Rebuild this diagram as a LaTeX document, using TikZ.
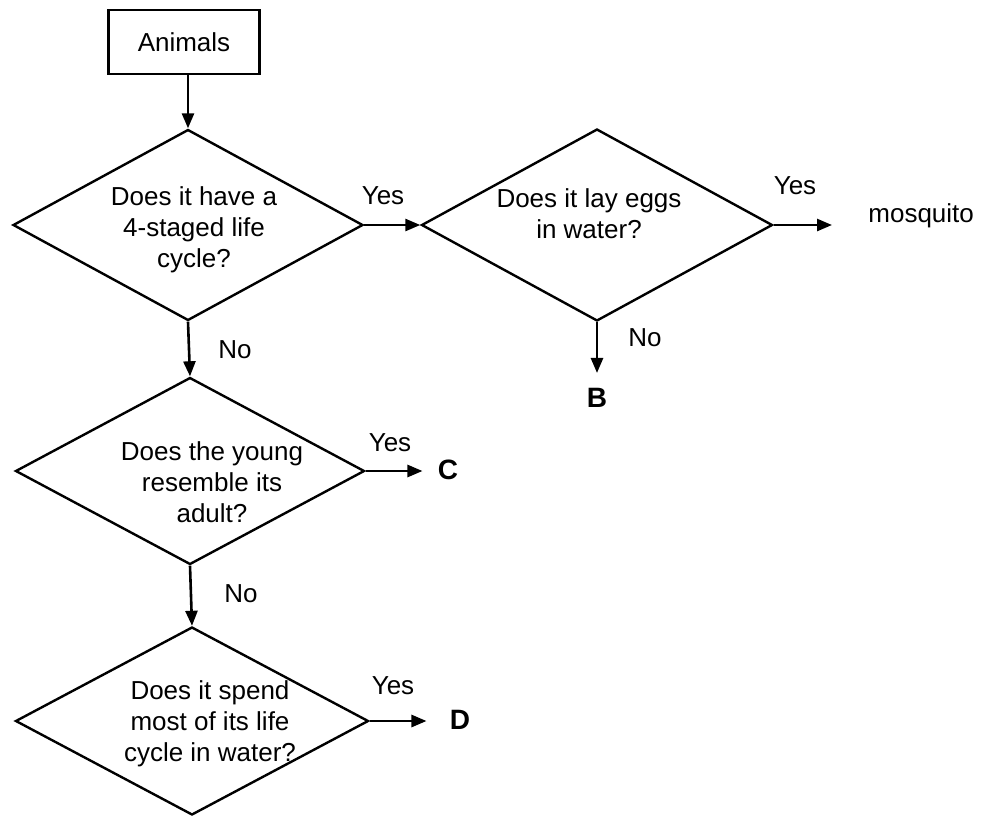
\documentclass[tikz,border=0pt]{standalone}
\usepackage{fontspec}
\setmainfont{Liberation Sans}
\usetikzlibrary{arrows.meta,shapes.geometric}
\newcommand{\qsize}{\fontsize{13}{15.5}\selectfont}
\tikzset{
  box/.style   = {draw, line width=1.2pt, minimum width=75.5pt,
                  minimum height=32pt, font=\qsize},
  quest/.style = {diamond, draw, line width=1.2pt, inner sep=0pt},
  qtext/.style = {align=center, font=\qsize},
  lbl/.style   = {font=\qsize},
  leaf/.style  = {font=\fontsize{14}{16}\selectfont\bfseries, inner sep=0pt},
  flow/.style  = {-{Triangle[length=7.5pt,width=6pt]}, line width=1.3pt},
}
\begin{document}
\begin{tikzpicture}[x=0.5pt, y=-0.5pt]
  \useasboundingbox (0,0) rectangle (981,816);
  % start
  \node[box] (anim) at (184,42) {Animals};
  % questions
  \node[quest, minimum width=175pt, minimum height=95.5pt] (d1) at (188,225) {};
  \node[quest, minimum width=175.5pt, minimum height=96pt] (d2) at (597,225) {};
  \node[quest, minimum width=174.5pt, minimum height=93.5pt] (d3) at (190,471) {};
  \node[quest, minimum width=176.5pt, minimum height=94pt] (d4) at (192,721) {};
  \node[qtext] (t1) at (194,230) {Does it have a\\4-staged life\\cycle?};
  \node[qtext] (t2) at (589,214) {Does it lay eggs\\in water?};
  \node[qtext] (t3) at (212,482) {Does the young\\resemble its\\adult?};
  \node[qtext] (t4) at (210,724) {Does it spend\\most of its life\\cycle in water?};
  % outcomes
  \node[lbl, inner sep=0pt, anchor=west] (mosq) at (868,216) {mosquito};
  \node[leaf] (bB) at (597,398) {B};
  \node[leaf] (cC) at (448,470) {C};
  \node[leaf] (dD) at (460,720) {D};
  % answers
  \node[lbl] (y1) at (383,196) {Yes};
  \node[lbl] (y2) at (795,186) {Yes};
  \node[lbl] (y3) at (390,443) {Yes};
  \node[lbl] (y4) at (393,686) {Yes};
  \node[lbl] (n1) at (235,350) {No};
  \node[lbl] (n2) at (645,338) {No};
  \node[lbl] (n3) at (241,594) {No};
  % connectors
  \draw[flow] (anim.south -| d1.north) -- (d1.north);
  \draw[flow] (d1.east) -- (d2.west);
  \draw[flow] (d1.south) -- (d3.north);
  \draw[flow] (d3.south) -- (d4.north);
  \draw[flow, shorten >=18pt] (d2.east) -- (d2.east -| mosq.west);
  \draw[flow, shorten >=7.5pt] (d2.south) -- (d2.south |- bB.north);
  \draw[flow, shorten >=7.5pt] (d3.east) -- (d3.east -| cC.west);
  \draw[flow, shorten >=11.5pt] (d4.east) -- (d4.east -| dD.west);
\end{tikzpicture}
\end{document}
